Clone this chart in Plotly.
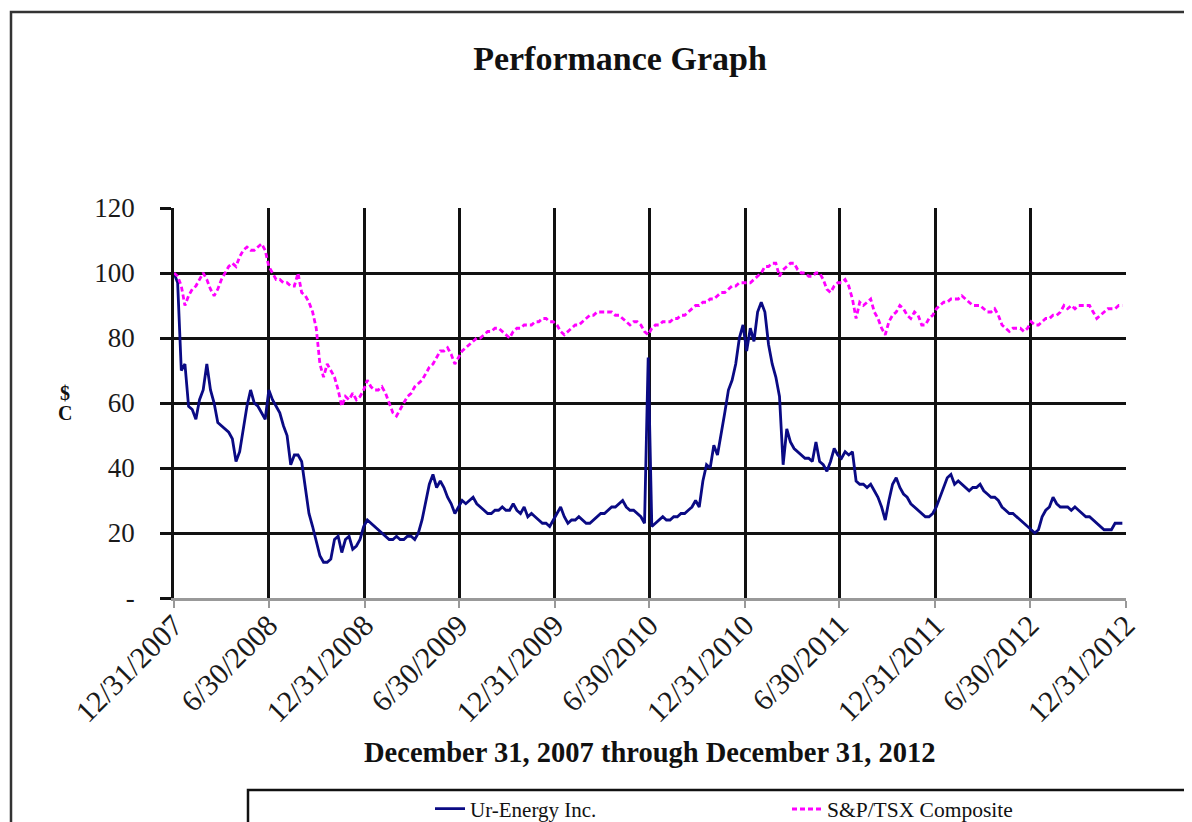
import pandas as pd
import plotly.graph_objects as go

# Weekly observation dates (Mondays), 12/31/2007 .. 12/31/2012
dates = pd.date_range("2007-12-31", periods=262, freq="7D")

# Ur-Energy Inc. (weekly)
ur_energy = [
    # 12/31/2007 - 6/30/2008
    100, 97, 70, 72, 59, 58, 55, 61, 64, 72, 64, 60, 54, 53, 52, 51, 49, 42, 45, 52, 59, 64, 60, 59, 57, 55,
    # 6/30/2008 - 12/31/2008
    64, 61, 59, 57, 53, 50, 41, 44, 44, 42, 34, 26, 22, 17, 13, 11, 11, 12, 18, 19, 14, 18, 19, 15, 16, 18,
    # 12/31/2008 - 6/30/2009
    22, 24, 23, 22, 21, 20, 19, 18, 18, 19, 18, 18, 19, 19, 18, 20, 24, 29, 35, 38, 34, 36, 34, 31, 29, 26,
    # 6/30/2009 - 12/31/2009
    28, 30, 29, 30, 31, 29, 28, 27, 26, 26, 27, 27, 28, 27, 27, 29, 27, 26, 28, 25, 26, 25, 24, 23, 23, 22,
    # 12/31/2009 - 6/30/2010
    24, 26, 28, 25, 23, 24, 24, 25, 24, 23, 23, 24, 25, 26, 26, 27, 28, 28, 29, 30, 28, 27, 27, 26, 25, 23,
    # 6/30/2010 - 12/31/2010
    74, 22, 23, 24, 25, 24, 24, 25, 25, 26, 26, 27, 28, 30, 28, 36, 41, 40, 47, 44, 50, 57, 64, 67, 72, 80,
    # 12/31/2010 - 6/30/2011
    84, 76, 83, 79, 88, 91, 88, 78, 72, 68, 62, 41, 52, 48, 46, 45, 44, 43, 43, 42, 48, 42, 41, 39, 42, 46,
    # 6/30/2011 - 12/31/2011
    44, 43, 45, 44, 45, 36, 35, 35, 34, 35, 33, 31, 28, 24, 30, 35, 37, 34, 32, 31, 29, 28, 27, 26, 25, 25,
    # 12/31/2011 - 6/30/2012
    26, 28, 31, 34, 37, 38, 35, 36, 35, 34, 33, 34, 34, 35, 33, 32, 31, 31, 30, 28, 27, 26, 26, 25, 24, 23,
    # 6/30/2012 - 12/31/2012
    22, 21, 20, 21, 25, 27, 28, 31, 29, 28, 28, 28, 27, 28, 27, 26, 25, 25, 24, 23, 22, 21, 21, 21, 23, 23,
    23,
]

# S&P/TSX Composite (weekly)
sp_tsx = [
    100, 99, 96, 90, 93, 95, 96, 98, 100, 98, 95, 93, 95, 98, 100, 102, 103, 102, 105, 107, 108, 107, 107, 108, 109, 107,
    102, 100, 98, 98, 97, 97, 96, 96, 100, 94, 93, 91, 88, 83, 72, 68, 72, 70, 68, 64, 59, 62, 61, 63, 61, 62,
    64, 67, 65, 64, 64, 65, 63, 60, 57, 56, 58, 60, 62, 63, 65, 66, 67, 69, 71, 72, 74, 76, 76, 77, 75, 72,
    74, 76, 77, 78, 79, 80, 80, 81, 82, 82, 83, 83, 82, 81, 80, 82, 83, 83, 84, 84, 84, 85, 85, 86, 86, 85,
    85, 84, 82, 81, 82, 83, 84, 84, 85, 86, 87, 87, 88, 88, 88, 88, 88, 87, 87, 86, 85, 84, 85, 85, 84, 82,
    81, 83, 84, 84, 85, 85, 85, 86, 86, 87, 87, 88, 89, 90, 90, 91, 91, 92, 92, 93, 94, 94, 95, 96, 96, 97,
    97, 97, 97, 98, 99, 100, 102, 102, 103, 103, 99, 101, 102, 103, 103, 101, 100, 100, 99, 99, 100, 100, 98, 95, 94, 96,
    97, 97, 98, 96, 92, 86, 91, 90, 91, 92, 88, 86, 83, 81, 85, 87, 88, 90, 89, 87, 86, 88, 87, 84, 84, 86,
    87, 89, 90, 91, 91, 92, 92, 92, 93, 92, 91, 90, 90, 90, 89, 88, 88, 89, 87, 84, 83, 82, 83, 83, 83, 82,
    83, 85, 84, 84, 85, 86, 86, 87, 87, 88, 90, 89, 90, 89, 90, 90, 90, 90, 88, 86, 87, 88, 89, 89, 89, 90,
    90,
]

tick_dates = ["2007-12-31", "2008-06-30", "2008-12-31", "2009-06-30", "2009-12-31", "2010-06-30",
              "2010-12-31", "2011-06-30", "2011-12-31", "2012-06-30", "2012-12-31"]
tick_labels = ["12/31/2007", "6/30/2008", "12/31/2008", "6/30/2009", "12/31/2009", "6/30/2010",
               "12/31/2010", "6/30/2011", "12/31/2011", "6/30/2012", "12/31/2012"]
y_ticks = [0, 20, 40, 60, 80, 100, 120]
y_labels = ["-", "20", "40", "60", "80", "100", "120"]

SERIF = "Liberation Serif, Times New Roman, serif"

# page body adds an 8px offset; figure is sized to fill the rest of the window
OFF = 8
W, H = 1192 - OFF, 822 - OFF
PL, PT, PW, PH = 174 - OFF, 208 - OFF, 952, 390


def px(xp):  # page x pixel -> paper
    return (xp - 174) / PW


def py(yp):  # page y pixel -> paper
    return (598 - yp) / PH


fig = go.Figure()
fig.add_trace(go.Scatter(x=dates, y=ur_energy, mode="lines", name="Ur-Energy Inc.",
                         line=dict(color="#0a0a84", width=2.8), legend="legend"))
fig.add_trace(go.Scatter(x=dates, y=sp_tsx, mode="lines", name="S&P/TSX Composite",
                         line=dict(color="#ff00ff", width=2.8, dash="5px,3px"), legend="legend2"))

fig.update_layout(
    width=W, height=H,
    margin=dict(l=PL, r=W - PL - PW, t=PT, b=H - PT - PH, autoexpand=False),
    paper_bgcolor="white", plot_bgcolor="white",
    font=dict(family=SERIF, color="#1a1a1a"),
    title=dict(text="<b>Performance Graph</b>", x=(620 - OFF) / W, y=1 - (58 - OFF) / H,
               xanchor="center", yanchor="middle",
               font=dict(size=34, family=SERIF, color="#111")),
    showlegend=True,
    legend=dict(orientation="h", x=px(445 - 15), y=py(809),
                xanchor="left", yanchor="middle", bgcolor="rgba(0,0,0,0)",
                font=dict(size=21, family=SERIF, color="#111")),
    legend2=dict(orientation="h", x=px(802 - 15), y=py(809),
                 xanchor="left", yanchor="middle", bgcolor="rgba(0,0,0,0)",
                 font=dict(size=21.5, family=SERIF, color="#111")),
)

fig.update_xaxes(
    type="date", range=["2007-12-31", "2012-12-31"],
    tickvals=tick_dates, ticktext=tick_labels, tickangle=-45,
    tickfont=dict(size=30, family=SERIF, color="#1a1a1a"),
    showgrid=True, gridcolor="#111", gridwidth=2.5,
    showline=True, linecolor="#999", linewidth=2.5,
    ticks="outside", ticklen=7, tickcolor="#999", tickwidth=2,
    ticklabelstandoff=-12, zeroline=False,
)
fig.update_yaxes(
    range=[0, 120], tickvals=y_ticks, ticktext=y_labels,
    tickfont=dict(size=27, family=SERIF, color="#1a1a1a"),
    showgrid=True, gridcolor="#111", gridwidth=2.5,
    showline=True, linecolor="#111", linewidth=2.5,
    ticks="outside", ticklen=11, tickcolor="#111", tickwidth=2.5,
    ticklabelstandoff=20, zeroline=False,
)

# x-axis title
fig.add_annotation(text="<b>December 31, 2007 through December 31, 2012</b>",
                   xref="paper", yref="paper", x=px(650), y=py(752),
                   xanchor="center", yanchor="middle", showarrow=False,
                   font=dict(size=28.5, family=SERIF, color="#111"))
# y-axis label "$" over "C"
fig.add_annotation(text="<b>$</b>", xref="paper", yref="paper",
                   x=px(65), y=py(393), xanchor="center", yanchor="middle",
                   showarrow=False, font=dict(size=20, family=SERIF, color="#111"))
fig.add_annotation(text="<b>C</b>", xref="paper", yref="paper",
                   x=px(65), y=py(413), xanchor="center", yanchor="middle",
                   showarrow=False, font=dict(size=20, family=SERIF, color="#111"))

# outer frame and legend box
fig.add_shape(type="rect", xref="paper", yref="paper",
              x0=px(11), y0=py(12), x1=1.3, y1=-1.2,
              line=dict(color="#333", width=2.5))
fig.add_shape(type="rect", xref="paper", yref="paper",
              x0=px(248), y0=py(790), x1=1.3, y1=-1.2,
              line=dict(color="#111", width=2.5))

fig.write_html("out.html")
